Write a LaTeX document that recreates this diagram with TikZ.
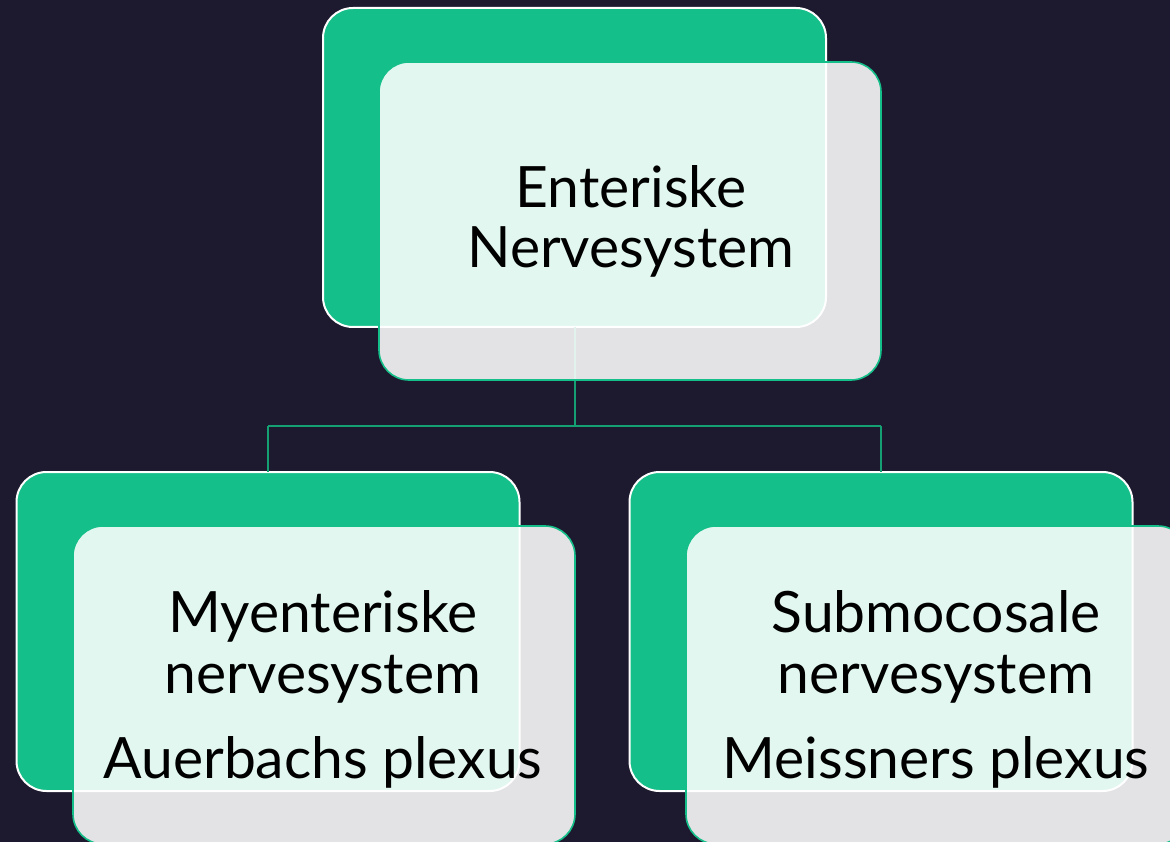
\documentclass[tikz,border=0pt]{standalone}
\usepackage{fontspec}
\setmainfont{Lato}
\definecolor{bgdark}{RGB}{29,26,47}
\definecolor{leafgreen}{RGB}{21,191,137}
\definecolor{linkgreen}{RGB}{20,160,115}
\tikzset{
  backcard/.style={draw=white, line width=2pt, fill=leafgreen, rounded corners=30pt,
    inner sep=0pt, outer sep=0pt, minimum width=503pt, minimum height=319pt},
  frontcard/.style={draw=leafgreen, line width=1.6pt, fill=white, fill opacity=0.88,
    rounded corners=30pt, inner sep=0pt, outer sep=0pt,
    minimum width=502pt, minimum height=318pt},
  cardtext/.style={anchor=base, inner sep=0pt, text=black,
    font=\fontsize{57}{60}\selectfont},
  link/.style={draw=linkgreen, line width=2pt}
}
\begin{document}
\begin{tikzpicture}[x=1pt, y=-1pt]
  \fill[bgdark] (0,0) rectangle (1170,842);
  \useasboundingbox (0,0) rectangle (1170,842);
  \clip (0,0) rectangle (1170,842);

  % back cards
  \node[backcard] (gtop)   at (574.5,167.5) {};
  \node[backcard] (gleft)  at (268,631.5) {};
  \node[backcard] (gright) at (881,631.5) {};

  % tree connectors
  \coordinate (split) at (574.5,426);
  \coordinate (lbend) at (268,426);
  \coordinate (rbend) at (881,426);
  \draw[link] (gtop.south) -- (split);
  \draw[link] (lbend) -- (rbend);
  \draw[link] (lbend) -- (gleft.north);
  \draw[link] (rbend) -- (gright.north);

  % front cards
  \node[frontcard] (ftop)   at (630,221) {};
  \node[frontcard] (fleft)  at (324,685) {};
  \node[frontcard] (fright) at (937,685) {};

  % labels
  \node[cardtext] (t1) at (631,208) {Enteriske};
  \node[cardtext] (t2) at (631,268) {Nervesystem};
  \node[cardtext] (l1) at (323,632) {Myenteriske};
  \node[cardtext] (l2) at (323,693) {nervesystem};
  \node[cardtext] (l3) at (323,778) {Auerbachs plexus};
  \node[cardtext] (r1) at (936,632) {Submocosale};
  \node[cardtext] (r2) at (936,693) {nervesystem};
  \node[cardtext] (r3) at (936,778) {Meissners plexus};
\end{tikzpicture}
\end{document}
